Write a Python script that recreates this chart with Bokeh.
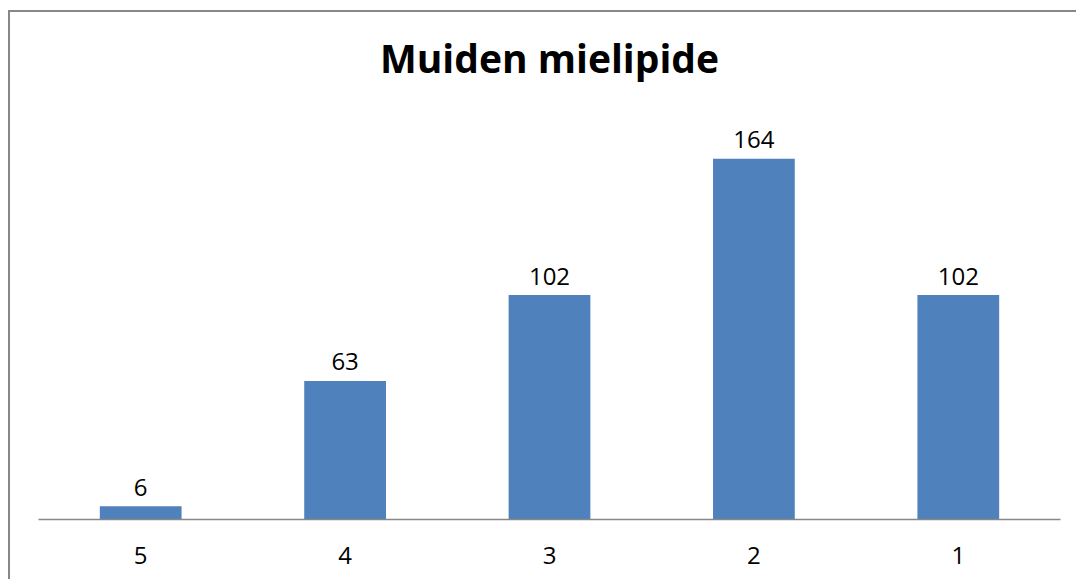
from bokeh.plotting import figure
from bokeh.models import ColumnDataSource, FactorRange, Range1d
from bokeh.core.properties import value
from bokeh.embed import file_html
from bokeh.resources import INLINE

# Survey answers: rating category -> number of respondents
categories = ["5", "4", "3", "2", "1"]
counts = [6, 63, 102, 164, 102]
title_text = "Muiden mielipide"

BAR_COLOR = "#4F81BD"
FRAME_GRAY = "#878787"

PX_PER_UNIT = 2.2          # vertical scale of the bars
PLOT_H = 507               # drawing area height in px (title sits inside it)
Y_MAX = PLOT_H / PX_PER_UNIT

src = ColumnDataSource(dict(cat=categories, n=counts, label=[str(c) for c in counts]))

p = figure(
    width=1068, height=569,
    x_range=FactorRange(*categories, range_padding=0),
    y_range=Range1d(0, Y_MAX),
    output_backend="svg", toolbar_location=None,
    y_axis_location=None,
    min_border_left=28, min_border_right=18,
    min_border_top=0, min_border_bottom=62,
    margin=(10, 0, 0, 8),
    styles={"border-left": f"2px solid {FRAME_GRAY}", "border-top": f"2px solid {FRAME_GRAY}"},
)
p.outline_line_color = None
p.xgrid.visible = False
p.ygrid.visible = False

# chart title, centred over the middle category near the top of the drawing area
p.text(x=[categories[len(categories) // 2]], y=[Y_MAX], text=[title_text],
       text_font=value("Open Sans"), text_font_style="bold",
       text_font_size=value("39px"), text_color="black",
       text_align="center", text_baseline="alphabetic", y_offset=45)

ax = p.xaxis[0]
ax.axis_line_color = FRAME_GRAY
ax.axis_line_width = 1.5
ax.major_tick_line_color = None
ax.minor_tick_line_color = None
ax.major_tick_in = 0
ax.major_tick_out = 0
ax.major_label_text_font = "Open Sans"
ax.major_label_text_font_size = "24px"
ax.major_label_text_color = "black"
ax.major_label_standoff = 27

p.vbar(x="cat", top="n", width=0.4, source=src, fill_color=BAR_COLOR, line_color=None)

p.text(x="cat", y="n", text="label", source=src,
       text_font=value("Open Sans"), text_font_size=value("24px"),
       text_align="center", text_baseline="alphabetic", y_offset=-19,
       text_color="black")

open("out.html", "w").write(file_html(p, INLINE))
